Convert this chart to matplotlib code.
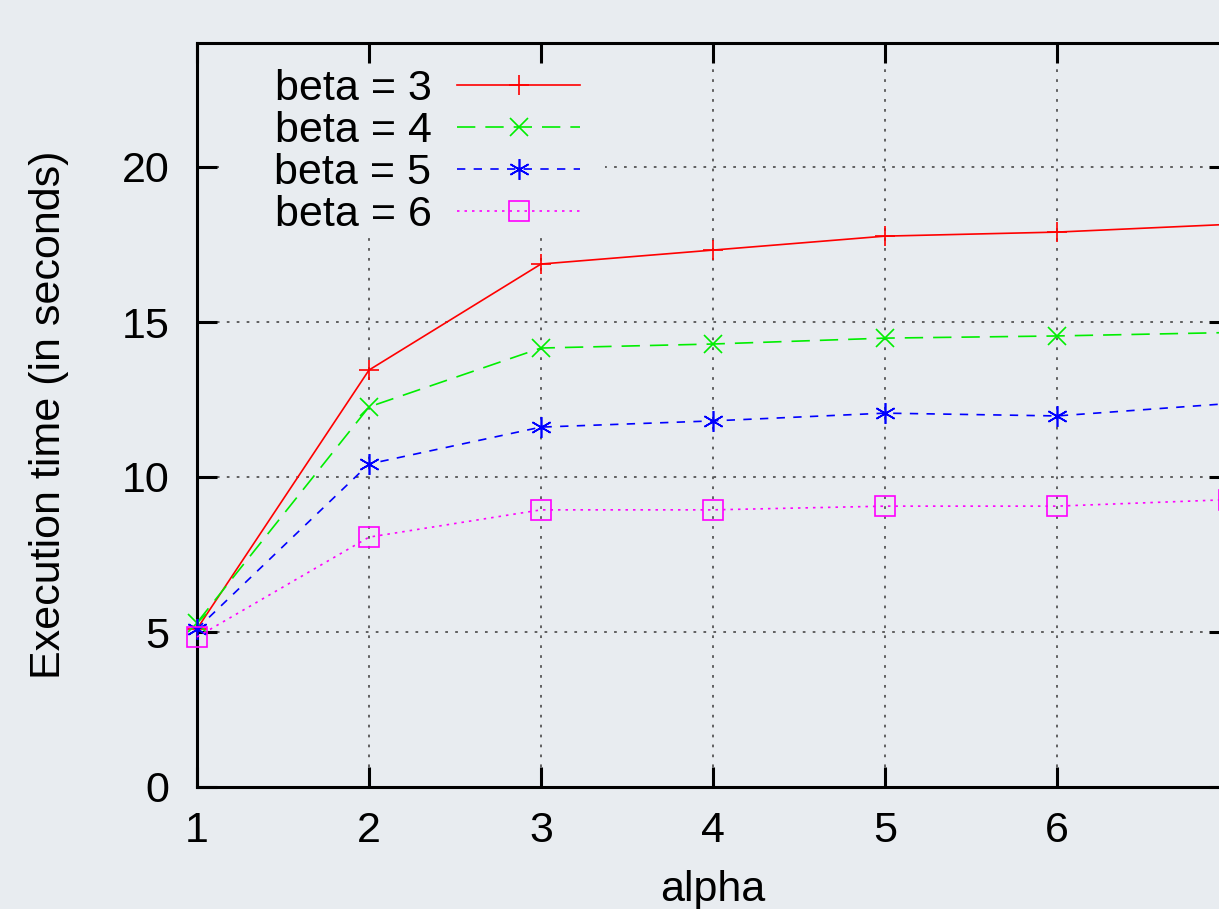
import matplotlib
matplotlib.use("Agg")
import matplotlib.pyplot as plt
from matplotlib.patches import Rectangle

alpha = [1, 2, 3, 4, 5, 6, 7]
beta3 = [5.1, 13.45, 16.87, 17.32, 17.77, 17.90, 18.15]
beta4 = [5.3, 12.26, 14.16, 14.29, 14.48, 14.55, 14.66]
beta5 = [5.1, 10.42, 11.61, 11.81, 12.06, 11.97, 12.37]
beta6 = [4.84, 8.06, 8.94, 8.94, 9.06, 9.06, 9.27]
labels = ["beta = 3", "beta = 4", "beta = 5", "beta = 6"]
xticklabels = ["1", "2", "3", "4", "5", "6", ""]
yticks = [0, 5, 10, 15, 20]

BG = "#e8ecf0"
plt.rcParams['font.family'] = ['Liberation Sans', 'DejaVu Sans']
FS = 31

fig = plt.figure(figsize=(12.19, 9.09), dpi=100, facecolor=BG)
L = 197 / 1219
B = (909 - 787) / 909
W = (1229 - 197) / 1219
H = (787 - 43) / 909
ax = fig.add_axes([L, B, W, H], facecolor=BG)

lw = 1.2
mew = 1.2
ax.plot(alpha, beta3, color="#ff0000", lw=lw, ls='-', marker='+', ms=15, mew=mew,
        label=labels[0], clip_on=False, zorder=3)
ax.plot(alpha, beta4, color="#00ee00", lw=lw, ls=(0, (11, 6)), marker='x', ms=13, mew=mew,
        label=labels[1], clip_on=False, zorder=3)
ax.plot(alpha, beta5, color="#0000ff", lw=lw, ls=(0, (5, 5)), marker=(6, 2, 0), ms=15, mew=mew,
        label=labels[2], clip_on=False, zorder=3)
ax.plot(alpha, beta6, color="#ff00ff", lw=lw, ls=(0, (1.5, 3)), marker='s', ms=14, mew=mew,
        mfc='none', label=labels[3], clip_on=False, zorder=3)

ax.set_xlim(1, 7)
ax.set_ylim(0, 24)
ax.set_xticks(alpha)
ax.set_xticklabels(xticklabels)
ax.set_yticks(yticks)
ax.grid(True, color="#555555", ls=(0, (1.5, 4)), lw=1.3)
ax.set_axisbelow(True)

for s in ax.spines.values():
    s.set_linewidth(2.2)
    s.set_color("black")

ax.tick_params(axis='both', direction='in', length=14.5, width=2.2, top=True, right=True,
               labelsize=FS, colors='black')
ax.tick_params(axis='x', pad=17)
ax.tick_params(axis='y', pad=20)

ax.set_ylabel("Execution time (in seconds)", fontsize=FS, labelpad=38)
ax.set_xlabel("alpha", fontsize=FS, labelpad=14)

# opaque key area hiding the grid, as gnuplot does
key_bg = Rectangle((219 / 1219, 1 - 235 / 909), (605 - 219) / 1219, (235 - 64) / 909,
                   transform=fig.transFigure, facecolor=BG, edgecolor='none', zorder=1)
ax.add_patch(key_bg)

leg = ax.legend(loc='upper left', bbox_to_anchor=(268 / 1219, 1 - 63 / 909),
                bbox_transform=fig.transFigure, markerfirst=False, fontsize=FS,
                handlelength=2.85, handletextpad=0.6, labelspacing=0.04, borderpad=0.15,
                borderaxespad=0, numpoints=1, frameon=False)
leg.set_zorder(2)

fig.savefig("out.png", dpi=100, facecolor=BG)
